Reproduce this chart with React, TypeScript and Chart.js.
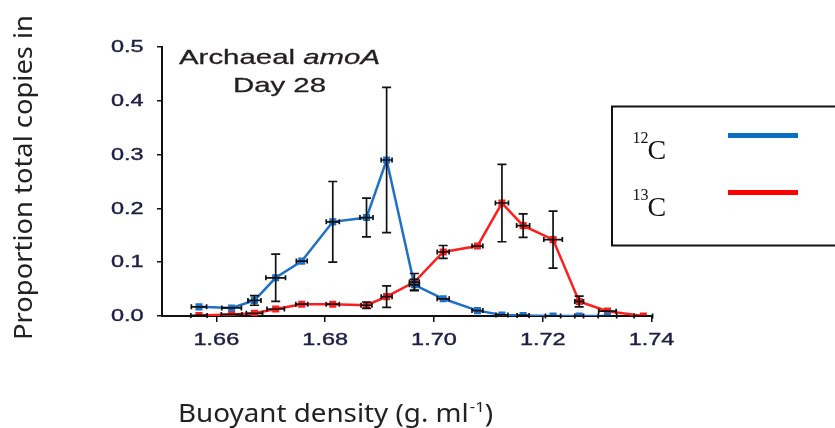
import React, { useEffect, useRef } from "react";
import { Chart, registerables } from "chart.js";

Chart.register(...registerables);

// ---- data ----
const density = [1.6568, 1.6628, 1.667, 1.6709, 1.6757, 1.6814, 1.6876, 1.6913, 1.6964, 1.7017, 1.708, 1.7125, 1.7164, 1.7219, 1.7267, 1.7319, 1.7385];
const c12 = [0.017, 0.015, 0.029, 0.071, 0.102, 0.175, 0.183, 0.29, 0.058, 0.032, 0.01, 0.002, 0.001, 0.0, 0.0, 0.0];
const c12ErrY = [0.003, 0.003, 0.009, 0.044, 0.003, 0.075, 0.036, 0.135, 0.01, 0.003, 0.003, 0.002, 0.001, 0.001, 0.001, 0.001];
const c12ErrX = [0.0014, 0.0018, 0.0012, 0.0018, 0.001, 0.0012, 0.0012, 0.001, 0.0009, 0.0011, 0.001, 0.0011, 0.0011, 0.0014, 0.0008, 0.0017];
const c13 = [0.001, 0.003, 0.005, 0.013, 0.022, 0.022, 0.02, 0.036, 0.063, 0.119, 0.13, 0.21, 0.168, 0.142, 0.027, 0.009, 0.0];
const c13ErrY = [0.002, 0.002, 0.003, 0.003, 0.004, 0.003, 0.006, 0.02, 0.016, 0.012, 0.004, 0.072, 0.022, 0.053, 0.01, 0.003, 0.001];
const c13ErrX = [0.0015, 0.0019, 0.0015, 0.0016, 0.0011, 0.0012, 0.001, 0.001, 0.0009, 0.0011, 0.001, 0.0012, 0.0012, 0.0017, 0.0008, 0.0016, 0.0017];
const xTicks = [1.66, 1.68, 1.7, 1.72, 1.74];
const yTicks = [0, 0.1, 0.2, 0.3, 0.4, 0.5];
const xTickLabels = ["1.66", "1.68", "1.70", "1.72", "1.74"];
const yTickLabels = ["0.0", "0.1", "0.2", "0.3", "0.4", "0.5"];
const seriesNames = ["12C", "13C"];

const BLUE = "#1f70c8";
const RED = "#ff1e1e";
const TICK_COLOR = "#1e1e46";
const STRETCH = 1.38;

function stretchText(ctx: CanvasRenderingContext2D, text: string, x: number, y: number, sx: number, align: CanvasTextAlign, thicken = 0) {
  ctx.save();
  ctx.translate(x, y);
  ctx.scale(sx, 1);
  ctx.textAlign = align;
  ctx.fillText(text, 0, 0);
  if (thicken > 0) {
    ctx.lineWidth = thicken;
    ctx.strokeStyle = ctx.fillStyle as string;
    ctx.strokeText(text, 0, 0);
  }
  ctx.restore();
}

const overlay = {
  id: "overlay",
  afterDatasetsDraw(chart: any) {
    const { ctx, scales } = chart;
    const xs = scales.x;
    const ys = scales.y;
    const draw = (vals: number[], ex: number[], ey: number[]) => {
      ctx.save();
      ctx.strokeStyle = "#111";
      ctx.lineWidth = 1.7;
      vals.forEach((v, i) => {
        const px = xs.getPixelForValue(density[i]);
        const py = ys.getPixelForValue(v);
        const x0 = xs.getPixelForValue(density[i] - ex[i]);
        const x1 = xs.getPixelForValue(density[i] + ex[i]);
        const y0 = ys.getPixelForValue(v - ey[i]);
        const y1 = ys.getPixelForValue(v + ey[i]);
        ctx.beginPath();
        ctx.moveTo(x0, py); ctx.lineTo(x1, py);
        ctx.moveTo(x0, py - 2.5); ctx.lineTo(x0, py + 2.5);
        ctx.moveTo(x1, py - 2.5); ctx.lineTo(x1, py + 2.5);
        if (Math.abs(y1 - y0) > 5) {
          ctx.moveTo(px, y0); ctx.lineTo(px, y1);
          ctx.moveTo(px - 4.5, y0); ctx.lineTo(px + 4.5, y0);
          ctx.moveTo(px - 4.5, y1); ctx.lineTo(px + 4.5, y1);
        }
        ctx.stroke();
      });
      ctx.restore();
    };
    draw(c12, c12ErrX, c12ErrY);
    draw(c13, c13ErrX, c13ErrY);
  },
  afterDraw(chart: any) {
    const { ctx, scales } = chart;
    const xs = scales.x;
    const ys = scales.y;
    ctx.save();
    // tick labels (stretched like the source figure)
    ctx.fillStyle = TICK_COLOR;
    ctx.font = "17px 'Liberation Sans', Arial, sans-serif";
    ctx.textBaseline = "middle";
    yTicks.forEach((v, i) => stretchText(ctx, yTickLabels[i], 143.5, ys.getPixelForValue(v) + 0.5, STRETCH, "right", 0.4));
    xTicks.forEach((v, i) => stretchText(ctx, xTickLabels[i], xs.getPixelForValue(v), 340, STRETCH, "center", 0.4));

    // in-plot title
    ctx.fillStyle = "#231f20";
    ctx.textBaseline = "alphabetic";
    const fReg = "21px 'Liberation Sans', Arial, sans-serif";
    const fIt = "italic 21px 'Liberation Sans', Arial, sans-serif";
    ctx.font = fReg;
    const w1 = ctx.measureText("Archaeal ").width;
    ctx.font = fIt;
    const w2 = ctx.measureText("amoA").width;
    const cx = 279.5;
    const start = cx - ((w1 + w2) * 1.4) / 2;
    ctx.font = fReg;
    stretchText(ctx, "Archaeal ", start, 63.5, 1.4, "left", 0.3);
    ctx.font = fIt;
    stretchText(ctx, "amoA", start + w1 * 1.4, 63.5, 1.4, "left", 0.3);
    ctx.font = fReg;
    stretchText(ctx, "Day 28", cx, 91.5, 1.4, "center", 0.3);

    // y-axis title
    ctx.fillStyle = "#222";
    const yTitle = "Proportion total copies in";
    ctx.font = "25px 'Noto Sans', sans-serif";
    const wy = ctx.measureText(yTitle).width;
    ctx.save();
    ctx.translate(24.5, 177.5);
    ctx.rotate(-Math.PI / 2);
    ctx.scale(325 / wy, 1);
    ctx.textAlign = "center";
    ctx.textBaseline = "middle";
    ctx.fillText(yTitle, 0, 0);
    ctx.restore();

    // x-axis title with superscript
    const main = "Buoyant density (g. ml";
    const sup = "-1";
    const end = ")";
    const fMain = "25px 'Noto Sans', sans-serif";
    const fSup = "15px 'Noto Sans', sans-serif";
    ctx.font = fMain;
    const wm = ctx.measureText(main).width;
    const we = ctx.measureText(end).width;
    ctx.font = fSup;
    const ws = ctx.measureText(sup).width;
    const total = wm + ws + we;
    const sxT = 314 / total;
    ctx.save();
    ctx.translate(178, 421.5);
    ctx.scale(sxT, 1);
    ctx.textAlign = "left";
    ctx.textBaseline = "alphabetic";
    ctx.font = fMain;
    ctx.fillText(main, 0, 0);
    ctx.font = fSup;
    ctx.fillText(sup, wm + 1, -10);
    ctx.font = fMain;
    ctx.fillText(end, wm + ws + 1, 0);
    ctx.restore();

    // legend box
    ctx.strokeStyle = "#111";
    ctx.lineWidth = 2;
    ctx.strokeRect(612, 106.5, 240, 139);
    const entries = [
      { label: seriesNames[0], color: "#0a6fc2", y: 159 },
      { label: seriesNames[1], color: "#ff0000", y: 216 },
    ];
    entries.forEach((e) => {
      ctx.fillStyle = "#111";
      ctx.textAlign = "left";
      ctx.textBaseline = "alphabetic";
      ctx.font = "16px 'Liberation Serif', 'Times New Roman', serif";
      ctx.fillText(e.label.slice(0, 2), 632.5, e.y - 16);
      ctx.font = "28px 'Liberation Serif', 'Times New Roman', serif";
      ctx.fillText(e.label.slice(2), 647.5, e.y);
      ctx.fillStyle = e.color;
      ctx.fillRect(728, e.y - 26, 70, 5);
    });
    ctx.restore();
  },
};

export default function App() {
  const ref = useRef<HTMLCanvasElement | null>(null);
  useEffect(() => {
    if (!ref.current) return;
    const chart = new Chart(ref.current, {
      type: "line",
      data: {
        datasets: [
          {
            label: seriesNames[0],
            data: c12.map((v, i) => ({ x: density[i], y: v })),
            borderColor: BLUE,
            backgroundColor: BLUE,
            borderWidth: 2.5,
            pointStyle: "rect",
            pointRadius: 5,
            pointBorderWidth: 0,
            tension: 0,
          },
          {
            label: seriesNames[1],
            data: c13.map((v, i) => ({ x: density[i], y: v })),
            borderColor: RED,
            backgroundColor: RED,
            borderWidth: 2.5,
            pointStyle: "rect",
            pointRadius: 5,
            pointBorderWidth: 0,
            tension: 0,
          },
        ],
      },
      options: {
        responsive: false,
        animation: false,
        devicePixelRatio: 1,
        layout: { padding: { top: 47, right: 183.5, left: 0, bottom: 0 } },
        plugins: { legend: { display: false }, tooltip: { enabled: false } },
        scales: {
          x: {
            type: "linear",
            min: 1.65,
            max: 1.74,
            afterBuildTicks: (s: any) => {
              s.ticks = xTicks.map((v) => ({ value: v }));
            },
            afterFit: (s: any) => {
              s.height = 112;
            },
            ticks: { display: false },
            grid: { drawOnChartArea: false, drawTicks: true, tickLength: 6, color: "#111", lineWidth: 1.5 },
            border: { display: true, color: "#111", width: 2 },
          },
          y: {
            type: "linear",
            min: 0,
            max: 0.5,
            afterBuildTicks: (s: any) => {
              s.ticks = yTicks.map((v) => ({ value: v }));
            },
            afterFit: (s: any) => {
              s.width = 162;
            },
            ticks: { display: false },
            grid: { drawOnChartArea: false, drawTicks: true, tickLength: 5, color: "#111", lineWidth: 1.5 },
            border: { display: true, color: "#111", width: 2 },
          },
        },
      },
      plugins: [overlay],
    } as any);
    return () => chart.destroy();
  }, []);
  return (
    <div style={{ position: "absolute", left: 0, top: 0, width: 835, height: 428, background: "#fff" }}>
      <canvas ref={ref} width={835} height={428} style={{ display: "block", width: 835, height: 428 }} />
    </div>
  );
}
